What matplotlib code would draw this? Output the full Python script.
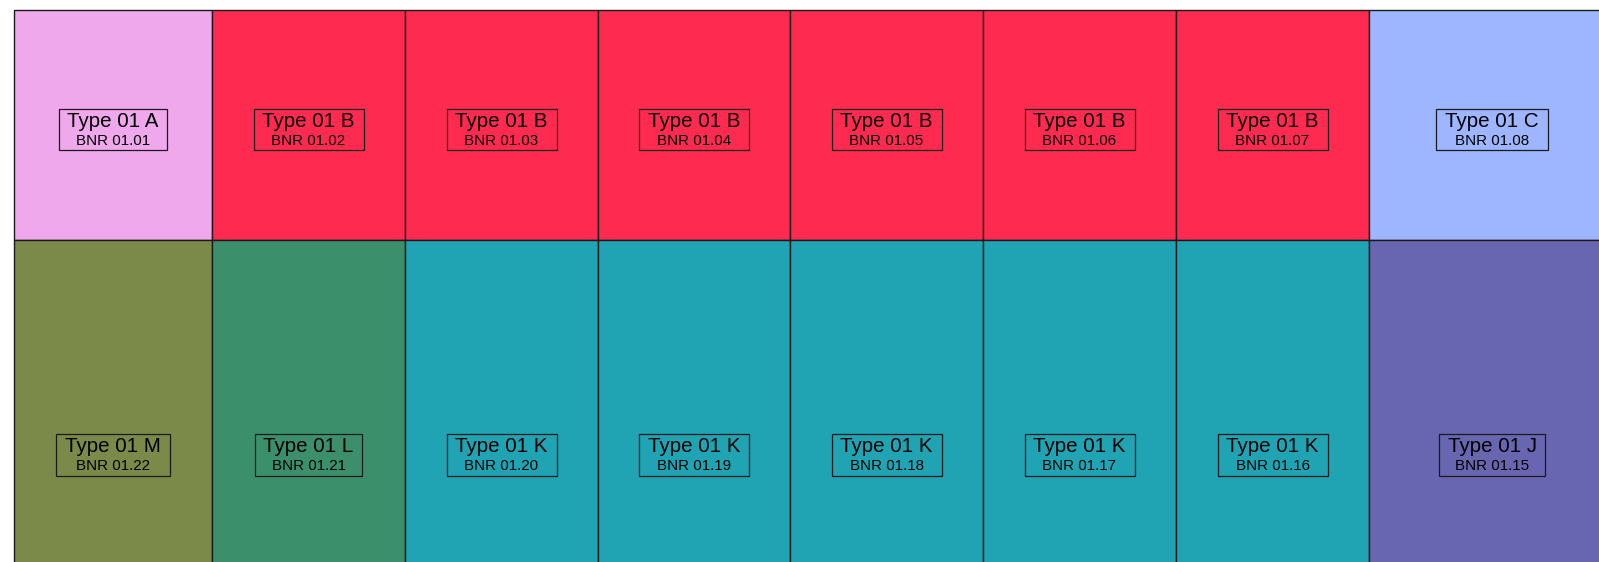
import matplotlib
matplotlib.use("Agg")
import matplotlib.pyplot as plt
from matplotlib.patches import Rectangle
from matplotlib.offsetbox import TextArea, VPacker, HPacker, DrawingArea, AnnotationBbox

plt.rcParams['font.family'] = ['Liberation Sans', 'DejaVu Sans']

# Room data (floor plan, two rows of rooms)
col_widths = [198, 193, 193, 192, 193, 193, 193, 246]
row_heights = [230.5, 430]

top_types = ["Type 01 A", "Type 01 B", "Type 01 B", "Type 01 B",
             "Type 01 B", "Type 01 B", "Type 01 B", "Type 01 C"]
top_bnr = ["BNR 01.01", "BNR 01.02", "BNR 01.03", "BNR 01.04",
           "BNR 01.05", "BNR 01.06", "BNR 01.07", "BNR 01.08"]
bottom_types = ["Type 01 M", "Type 01 L", "Type 01 K", "Type 01 K",
                "Type 01 K", "Type 01 K", "Type 01 K", "Type 01 J"]
bottom_bnr = ["BNR 01.22", "BNR 01.21", "BNR 01.20", "BNR 01.19",
              "BNR 01.18", "BNR 01.17", "BNR 01.16", "BNR 01.15"]

type_colors = {
    "Type 01 A": "#f0a8ec",
    "Type 01 B": "#ff2a4f",
    "Type 01 C": "#9db6ff",
    "Type 01 J": "#6866b0",
    "Type 01 K": "#20a3b2",
    "Type 01 L": "#3b906b",
    "Type 01 M": "#7b8a48",
}

fig = plt.figure(figsize=(15.99, 5.62), dpi=100)
ax = fig.add_axes([0, 0, 1, 1])
ax.set_xlim(-14, 1599 - 14)
ax.set_ylim(562 - 9.5, -9.5)
ax.axis("off")

rows = [(top_types, top_bnr), (bottom_types, bottom_bnr)]
label_dy = [5, 0]
y0 = 0
for (types, bnrs), h, dy in zip(rows, row_heights, label_dy):
    x0 = 0
    for t, b, w in zip(types, bnrs, col_widths):
        ax.add_patch(Rectangle((x0, y0), w, h, facecolor=type_colors[t],
                               edgecolor="#1a1a1a", linewidth=1.0))
        t1 = TextArea(t, textprops=dict(size=14.8, color="black"))
        t2 = TextArea(b, textprops=dict(size=10.9, color="black"))
        vbox = VPacker(children=[t1, t2], align="center", pad=0, sep=2.5)
        box = HPacker(children=[DrawingArea(4.5, 0), vbox, DrawingArea(4.5, 0)],
                      align="center", pad=1.8, sep=0)
        ab = AnnotationBbox(box, (x0 + w / 2, y0 + h / 2 + dy), xycoords="data",
                            frameon=True, pad=0, box_alignment=(0.5, 0.5),
                            bboxprops=dict(edgecolor="#1a1a1a", facecolor="none",
                                           linewidth=0.9))
        ax.add_artist(ab)
        x0 += w
    y0 += h

fig.savefig("out.png", dpi=100)
